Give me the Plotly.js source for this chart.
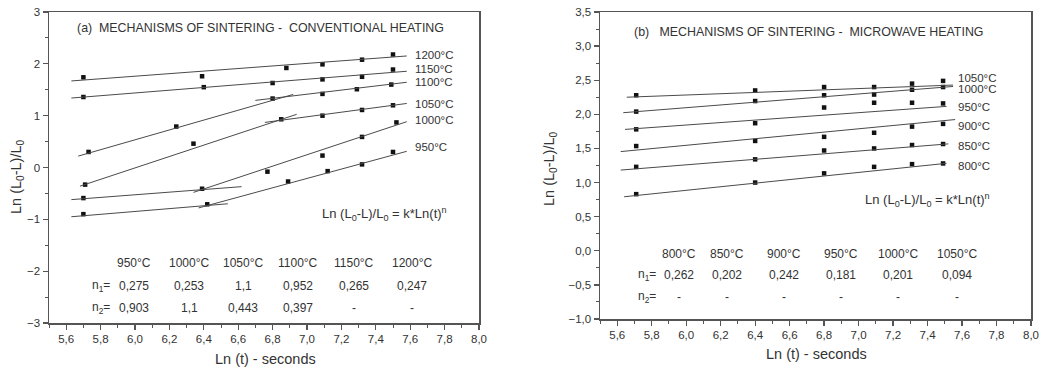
<!DOCTYPE html>
<html>
<head>
<meta charset="utf-8">
<script src="https://cdn.plot.ly/plotly-3.0.1.min.js"></script>
<style>
  html, body { margin: 0; padding: 0; background: #fff; }
  #chart { width: 1044px; height: 368px; }
</style>
</head>
<body>
<div id="chart"></div>
<script>
// ---------- (a) conventional heating ----------
const convTemps = [950, 1000, 1050, 1100, 1150, 1200];
const convN1 = [0.275, 0.253, 1.1, 0.952, 0.265, 0.247];
const convN2 = [0.903, 1.1, 0.443, 0.397, null, null];

const convLnT950 = [5.70, 6.42, 6.89, 7.12, 7.32, 7.50];
const conv950    = [-0.90, -0.71, -0.27, -0.07, 0.06, 0.30];
const convLnT1000 = [5.70, 6.39, 6.77, 7.09, 7.32, 7.52];
const conv1000    = [-0.59, -0.41, -0.08, 0.23, 0.59, 0.87];
const convLnT1050 = [5.71, 6.34, 6.85, 7.09, 7.32, 7.50];
const conv1050    = [-0.33, 0.46, 0.93, 1.00, 1.11, 1.20];
const convLnT1100 = [5.73, 6.24, 6.80, 7.09, 7.29, 7.49];
const conv1100    = [0.30, 0.79, 1.33, 1.42, 1.51, 1.60];
const convLnT1150 = [5.70, 6.40, 6.80, 7.09, 7.32, 7.50];
const conv1150    = [1.36, 1.55, 1.63, 1.70, 1.75, 1.89];
const convLnT1200 = [5.70, 6.39, 6.88, 7.09, 7.32, 7.50];
const conv1200    = [1.74, 1.76, 1.92, 1.99, 2.08, 2.18];

// fitted stages: slope = n1 (stage 1) or n2 (stage 2) of that temperature
const convSegTemp  = [950, 950, 1000, 1000, 1050, 1050, 1100, 1100, 1150, 1200];
const convSegStage = [1, 2, 1, 2, 1, 2, 1, 2, 1, 1];
const convSegX0    = [5.63, 6.37, 5.63, 6.34, 5.68, 6.755, 5.67, 6.70, 5.63, 5.63];
const convSegX1    = [6.54, 7.58, 6.62, 7.58, 6.94, 7.58, 6.92, 7.58, 7.58, 7.58];
const convSegY0    = [-0.95, -0.78, -0.62, -0.48, -0.36, 0.87, 0.22, 1.295, 1.34, 1.67];

// ---------- (b) microwave heating ----------
const micTemps = [800, 850, 900, 950, 1000, 1050];
const micN1 = [0.262, 0.202, 0.242, 0.181, 0.201, 0.094];
const micN2 = [null, null, null, null, null, null];

const micLnT = [5.71, 6.40, 6.80, 7.09, 7.31, 7.49];
const mic800  = [0.83, 1.00, 1.135, 1.23, 1.27, 1.28];
const mic850  = [1.23, 1.34, 1.47, 1.50, 1.55, 1.565];
const mic900  = [1.535, 1.61, 1.67, 1.73, 1.82, 1.86];
const mic950  = [1.78, 1.87, 2.10, 2.17, 2.17, 2.16];
const mic1000 = [2.04, 2.195, 2.28, 2.29, 2.36, 2.40];
const mic1050 = [2.28, 2.35, 2.40, 2.40, 2.45, 2.49];

const micSegX0 = [5.64, 5.62, 5.62, 5.645, 5.635, 5.655];
const micSegX1 = [7.51, 7.52, 7.56, 7.51, 7.548, 7.548];
const micSegY0 = [0.792, 1.183, 1.454, 1.779, 2.024, 2.251];

// ---------- styling helpers ----------
const FONT = 'Liberation Sans, Arial, sans-serif';
const TXT = '#333';
const AX = '#555';
const W = 1044, H = 368;
const px = x => x / W;
const py = y => 1 - y / H;
const fmt = v => (v === null ? '-' : String(v).replace('.', ','));

const traces = [];
function addPoints(x, y, xa, ya) {
  traces.push({ type: 'scatter', mode: 'markers', x: x, y: y, xaxis: xa, yaxis: ya,
    marker: { symbol: 'square', size: 4.5, color: '#111' }, hoverinfo: 'x+y' });
}
function addLine(x0, x1, y0, slope, xa, ya) {
  traces.push({ type: 'scatter', mode: 'lines', x: [x0, x1], y: [y0, y0 + slope * (x1 - x0)],
    xaxis: xa, yaxis: ya, line: { color: '#4a4a4a', width: 1 }, hoverinfo: 'skip' });
}

// panel (a)
addPoints(convLnT950, conv950, 'x', 'y');
addPoints(convLnT1000, conv1000, 'x', 'y');
addPoints(convLnT1050, conv1050, 'x', 'y');
addPoints(convLnT1100, conv1100, 'x', 'y');
addPoints(convLnT1150, conv1150, 'x', 'y');
addPoints(convLnT1200, conv1200, 'x', 'y');
convSegTemp.forEach((t, i) => {
  const k = convTemps.indexOf(t);
  const slope = convSegStage[i] === 1 ? convN1[k] : convN2[k];
  addLine(convSegX0[i], convSegX1[i], convSegY0[i], slope, 'x', 'y');
});

// panel (b)
[mic800, mic850, mic900, mic950, mic1000, mic1050].forEach(s => addPoints(micLnT, s, 'x2', 'y2'));
micTemps.forEach((t, i) => addLine(micSegX0[i], micSegX1[i], micSegY0[i], micN1[i], 'x2', 'y2'));

// ---------- annotations ----------
const ann = [];
function txt(x, y, text, size, opts) {
  ann.push(Object.assign({ xref: 'paper', yref: 'paper', x: px(x), y: py(y), text: text,
    showarrow: false, xanchor: 'center', yanchor: 'middle',
    font: { family: FONT, size: size, color: TXT } }, opts || {}));
}

// panel titles
txt(75, 28, '(a)  MECHANISMS OF SINTERING -  CONVENTIONAL HEATING', 12.4, { xanchor: 'left' });
txt(632, 32, '(b)   MECHANISMS OF SINTERING -  MICROWAVE HEATING', 12.4, { xanchor: 'left' });

// temperature tags at the line ends
const convTagY = [0.39, 0.91, 1.22, 1.64, 1.91, 2.18];
convTemps.forEach((t, i) => ann.push({ xref: 'x', yref: 'y', x: 7.615, y: convTagY[i],
  text: t + '°C', showarrow: false, xanchor: 'left', yanchor: 'middle',
  font: { family: FONT, size: 11.5, color: TXT } }));
const micTagY = [1.242, 1.535, 1.828, 2.107, 2.371, 2.532];
micTemps.forEach((t, i) => ann.push({ xref: 'x2', yref: 'y2', x: 7.564, y: micTagY[i],
  text: t + '°C', showarrow: false, xanchor: 'left', yanchor: 'middle',
  font: { family: FONT, size: 11.5, color: TXT } }));

// rate law
const law = 'Ln (L<sub>0</sub>-L)/L<sub>0</sub> = k*Ln(t)<sup>n</sup>';
txt(320, 214, law, 13, { xanchor: 'left' });
txt(863, 200, law, 13, { xanchor: 'left' });

// exponent tables
const convCols = [134, 189, 243, 298, 354, 412];
convTemps.forEach((t, i) => {
  txt(convCols[i], 263, t + '°C', 12);
  txt(convCols[i], 286, fmt(convN1[i]), 12);
  txt(convCols[i], 308, fmt(convN2[i]), 12);
});
txt(90, 286, 'n<sub>1</sub>=', 12, { xanchor: 'left' });
txt(90, 308, 'n<sub>2</sub>=', 12, { xanchor: 'left' });

const micCols = [679, 727, 784, 841, 898, 957];
micTemps.forEach((t, i) => {
  txt(micCols[i], 254, t + '°C', 12);
  txt(micCols[i], 275, fmt(micN1[i]), 12);
  txt(micCols[i], 297, fmt(micN2[i]), 12);
});
txt(636, 275, 'n<sub>1</sub>=', 12, { xanchor: 'left' });
txt(636, 297, 'n<sub>2</sub>=', 12, { xanchor: 'left' });

// axis titles
const yTitle = 'Ln (L<sub>0</sub>-L)/L<sub>0</sub>';
txt(17, 177, yTitle, 14.5, { textangle: -90 });
txt(550, 169, yTitle, 14.5, { textangle: -90 });
txt(265, 359, 'Ln (t) - seconds', 14.5);
txt(816, 354, 'Ln (t) - seconds', 14.5);

// ---------- axes ----------
function axis(extra) {
  return Object.assign({
    showgrid: false, zeroline: false, showline: true, mirror: true,
    linecolor: AX, linewidth: 1.5,
    ticks: 'outside', ticklen: 5, tickwidth: 1.3, tickcolor: AX,
    tickfont: { family: FONT, size: 11.5, color: TXT }
  }, extra);
}
const minorTicks = d => ({ ticks: 'outside', ticklen: 3, tickwidth: 1, tickcolor: AX, dtick: d, tick0: 0, showgrid: false });

const layout = {
  width: W, height: H,
  margin: { l: 0, r: 0, t: 0, b: 0 },
  paper_bgcolor: '#fff', plot_bgcolor: '#fff',
  showlegend: false,
  separators: ',.',
  font: { family: FONT, color: TXT },
  xaxis: axis({ domain: [px(49), px(479)], range: [5.5, 8.0], dtick: 0.2, tick0: 0,
    tickformat: '.1f', minor: minorTicks(0.1), anchor: 'y' }),
  yaxis: axis({ domain: [py(323), py(12)], range: [-3, 3], dtick: 1, tick0: 0,
    minor: minorTicks(0.5), anchor: 'x' }),
  xaxis2: axis({ domain: [px(600), px(1031)], range: [5.5, 8.0], dtick: 0.2, tick0: 0,
    tickformat: '.1f', minor: minorTicks(0.1), anchor: 'y2' }),
  yaxis2: axis({ domain: [py(319), py(12)], range: [-1, 3.5], dtick: 0.5, tick0: 0,
    tickformat: '.1f', minor: minorTicks(0.25), anchor: 'x2' }),
  annotations: ann
};

Plotly.newPlot('chart', traces, layout, { displayModeBar: false, staticPlot: true });
</script>
</body>
</html>
